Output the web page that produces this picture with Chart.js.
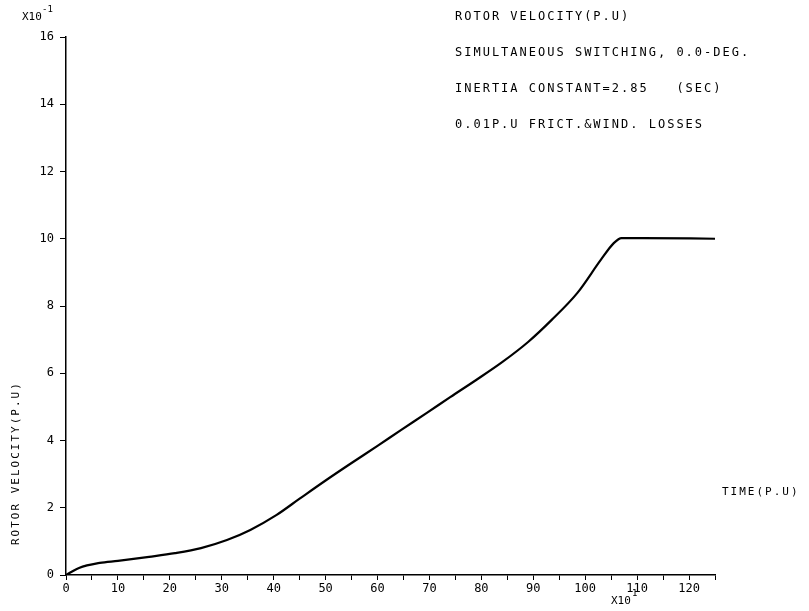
<!DOCTYPE html>
<html>
<head>
<meta charset="utf-8">
<script src="https://cdn.jsdelivr.net/npm/chart.js@4.4.0/dist/chart.umd.min.js"></script>
<style>
  html, body { margin: 0; padding: 0; background: #fff; }
  #wrap { width: 809px; height: 611px; position: relative; }
</style>
</head>
<body>
<div id="wrap"><canvas id="grafico"></canvas></div>
<script>
// tiempo (x10^1) y velocidad del rotor (x10^-1 p.u.)
var tiempo = [0, 2.5, 6.5, 10, 16, 21, 26, 31, 35.5, 40.5, 45, 50, 55, 60, 64.5,
              69.5, 74, 79, 84, 89, 93.5, 98.5, 103, 105.5, 107, 111, 125];
var velocidad = [0, 0.21, 0.36, 0.42, 0.54, 0.65, 0.80, 1.04, 1.34, 1.78, 2.27, 2.81, 3.33, 3.84, 4.31,
                 4.82, 5.29, 5.80, 6.33, 6.93, 7.58, 8.39, 9.37, 9.87, 10.02, 10.02, 10.0];
var ticksX = [0, 10, 20, 30, 40, 50, 60, 70, 80, 90, 100, 110, 120];
var ticksY = [0, 2, 4, 6, 8, 10, 12, 14, 16];
var notas = [
    "ROTOR VELOCITY(P.U)",
    "SIMULTANEOUS SWITCHING, 0.0-DEG.",
    "INERTIA CONSTANT=2.85   (SEC)",
    "0.01P.U FRICT.&WIND. LOSSES"
];

var fuente = "DejaVu Sans Mono";

var puntos = tiempo.map(function(t, i) { return { x: t, y: velocidad[i] }; });

var textos = {
    id: 'textos',
    afterDraw: function(chart) {
        var ctx = chart.ctx;
        ctx.save();
        ctx.fillStyle = '#000';
        ctx.textBaseline = 'middle';
        ctx.textAlign = 'left';

        // notas arriba a la derecha
        ctx.font = '12px "' + fuente + '"';
        ctx.letterSpacing = '2px';
        notas.forEach(function(linea, i) {
            ctx.fillText(linea, 455, 17 + i * 36);
        });

        // multiplicador eje y
        ctx.letterSpacing = '0px';
        ctx.font = '11px "' + fuente + '"';
        ctx.fillText('X10', 22, 17);
        ctx.font = '9px "' + fuente + '"';
        ctx.fillText('-1', 42, 10);

        // multiplicador eje x
        ctx.font = '11px "' + fuente + '"';
        ctx.fillText('X10', 611, 601);
        ctx.font = '9px "' + fuente + '"';
        ctx.fillText('1', 632, 594);

        // titulo eje x
        ctx.font = '11px "' + fuente + '"';
        ctx.letterSpacing = '2px';
        ctx.fillText('TIME(P.U)', 722, 492);

        // titulo eje y
        ctx.translate(16, 545);
        ctx.rotate(-Math.PI / 2);
        ctx.fillText('ROTOR VELOCITY(P.U)', 0, 0);
        ctx.restore();
    }
};

var ctx = document.getElementById('grafico').getContext('2d');
var grafico = new Chart(ctx, {
    type: 'line',
    data: {
        datasets: [{
            data: puntos,
            borderColor: '#000',
            borderWidth: 2.2,
            pointRadius: 0,
            fill: false,
            cubicInterpolationMode: 'monotone'
        }]
    },
    options: {
        responsive: true,
        maintainAspectRatio: false,
        animation: false,
        layout: { padding: { top: 37, right: 94, left: 0, bottom: 0 } },
        plugins: { legend: { display: false }, tooltip: { enabled: false } },
        scales: {
            x: {
                type: 'linear',
                min: 0,
                max: 125,
                afterBuildTicks: function(escala) {
                    var lista = [];
                    for (var v = 0; v <= 125; v += 5) lista.push({ value: v });
                    escala.ticks = lista;
                },
                afterFit: function(escala) { escala.height = 36; },
                ticks: {
                    autoSkip: false,
                    maxRotation: 0,
                    color: '#000',
                    padding: 2,
                    font: { family: fuente, size: 12 },
                    callback: function(valor) {
                        return ticksX.indexOf(valor) >= 0 ? String(valor) : '';
                    }
                },
                grid: { drawOnChartArea: false, color: '#000', tickLength: 5, lineWidth: 1 },
                border: { display: true, color: '#000', width: 1.5 }
            },
            y: {
                type: 'linear',
                min: 0,
                max: 16,
                afterBuildTicks: function(escala) {
                    escala.ticks = ticksY.map(function(v) { return { value: v }; });
                },
                afterFit: function(escala) { escala.width = 66; },
                ticks: {
                    color: '#000',
                    padding: 6,
                    font: { family: fuente, size: 12 }
                },
                grid: { drawOnChartArea: false, color: '#000', tickLength: 6, lineWidth: 1 },
                border: { display: true, color: '#000', width: 1.5 }
            }
        }
    },
    plugins: [textos]
});
</script>
</body>
</html>
